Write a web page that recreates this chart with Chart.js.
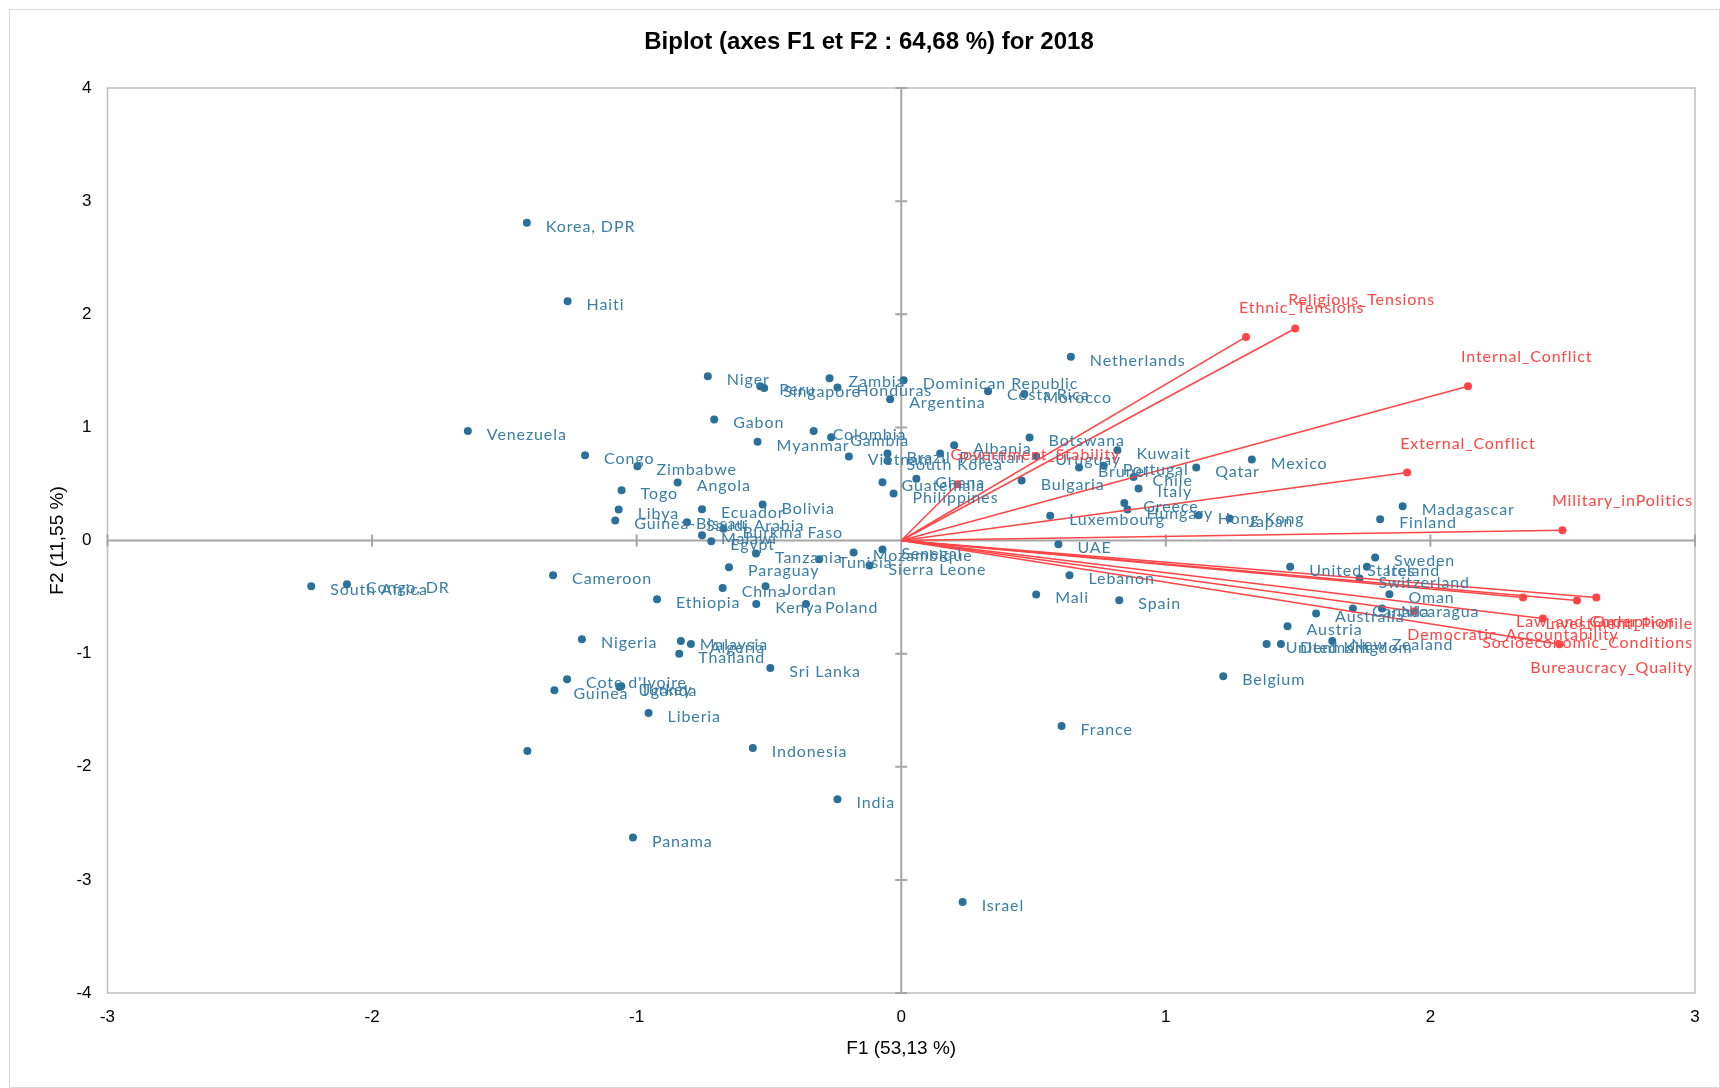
<!DOCTYPE html>
<html>
<head>
<meta charset="utf-8">
<script src="https://cdn.jsdelivr.net/npm/chart.js@4.4.1/dist/chart.umd.min.js"></script>
<style>
  html, body { margin: 0; padding: 0; background: #ffffff; }
  #wrap { width: 1720px; height: 1088px; }
</style>
</head>
<body>
<div id="wrap"><canvas id="c" width="1720" height="1088"></canvas></div>
<script>
// ---------------- DATA ----------------
const chartTitle = "Biplot (axes F1 et F2 : 64,68 %) for 2018";
const xAxisTitle = "F1 (53,13 %)";
const yAxisTitle = "F2 (11,55 %)";

const countries = [
  "Korea, DPR","Haiti","Venezuela","Congo","Zimbabwe","Niger","Peru","Singapore","Zambia","Honduras",
  "Dominican Republic","Argentina","Gabon","Colombia","Myanmar","Gambia","Vietnam","Brazil","South Korea","Pakistan",
  "Albania","Guatemala","Philippines","Ghana","Togo","Angola","Libya","Guinea-Bissau","Ecuador","Saudi Arabia",
  "Burkina Faso","Malawi","Egypt","Tanzania","Bolivia","Paraguay","China","Jordan","Kenya","Poland",
  "Ethiopia","Mozambique","Sierra Leone","Tunisia","Senegal","South Africa","Congo, DR","Cameroon","Nigeria","Malaysia",
  "Algeria","Thailand","Sri Lanka","Cote d'Ivoire","Guinea","Uganda","Turkey","Liberia","","Indonesia",
  "India","Panama","Israel","Netherlands","Costa Rica","Morocco","Botswana","Uruguay","Bulgaria","Brunei",
  "Portugal","Kuwait","Chile","Italy","Qatar","Greece","Hungary","Luxembourg","Hong Kong","Japan",
  "UAE","Lebanon","Mali","Spain","France","Belgium","United Kingdom","Denmark","New Zealand","Austria",
  "Sweden","United States","Ireland","Switzerland","Oman","Australia","Canada","Nicaragua","Mexico","Madagascar",
  "Finland"
];
const countryF1 = [
  -1.415,-1.261,-1.638,-1.195,-0.997,-0.731,-0.533,-0.518,-0.271,-0.241,
   0.009,-0.042,-0.707,-0.331,-0.543,-0.265,-0.198,-0.052,-0.052, 0.147,
   0.200,-0.071,-0.029, 0.057,-1.057,-0.845,-1.068,-1.081,-0.753,-0.810,
  -0.672,-0.753,-0.718,-0.549,-0.524,-0.651,-0.675,-0.513,-0.548,-0.360,
  -0.923,-0.180,-0.120,-0.310,-0.071,-2.230,-2.095,-1.316,-1.207,-0.833,
  -0.795,-0.839,-0.495,-1.263,-1.311,-1.065,-1.058,-0.955,-1.413,-0.561,
  -0.241,-1.014, 0.232, 0.641, 0.328, 0.465, 0.485, 0.510, 0.455, 0.672,
   0.765, 0.817, 0.878, 0.897, 1.115, 0.843, 0.855, 0.563, 1.124, 1.241,
   0.594, 0.636, 0.510, 0.824, 0.606, 1.217, 1.381, 1.435, 1.629, 1.460,
   1.791, 1.470, 1.760, 1.732, 1.845, 1.568, 1.707, 1.817, 1.325, 1.895,
   1.810
];
const countryF2 = [
   2.808, 2.116, 0.969, 0.754, 0.657, 1.453, 1.364, 1.347, 1.435, 1.353,
   1.417, 1.249, 1.070, 0.969, 0.872, 0.913, 0.743, 0.769, 0.704, 0.769,
   0.843, 0.516, 0.415, 0.545, 0.445, 0.513, 0.274, 0.177, 0.277, 0.162,
   0.103, 0.047,-0.006,-0.115, 0.318,-0.236,-0.419,-0.404,-0.561,-0.561,
  -0.519,-0.106,-0.221,-0.165,-0.080,-0.404,-0.386,-0.307,-0.873,-0.888,
  -0.915,-1.000,-1.126,-1.226,-1.324,-1.294,-1.288,-1.524,-1.860,-1.834,
  -2.287,-2.626,-3.195, 1.624, 1.320, 1.294, 0.911, 0.748, 0.530, 0.645,
   0.660, 0.798, 0.562, 0.460, 0.645, 0.332, 0.274, 0.218, 0.224, 0.195,
  -0.033,-0.307,-0.477,-0.528,-1.639,-1.200,-0.914,-0.914,-0.888,-0.758,
  -0.150,-0.233,-0.233,-0.336,-0.475,-0.645,-0.601,-0.601, 0.716, 0.303,
   0.188
];

const variables = [
  "Government_Stability","Socioeconomic_Conditions","Investment_Profile","Internal_Conflict",
  "External_Conflict","Corruption","Military_inPolitics","Religious_Tensions",
  "Law_and_Order","Ethnic_Tensions","Democratic_Accountability","Bureaucracy_Quality"
];
const variableF1 = [0.213, 2.425, 2.554, 2.142, 1.912, 2.627, 2.499, 1.489, 2.350, 1.303, 1.939, 2.488];
const variableF2 = [0.498,-0.690,-0.530, 1.364, 0.601,-0.504, 0.091, 1.874,-0.504, 1.800,-0.625,-0.917];

const xTicksMin = -3, xTicksMax = 3, yTicksMin = -4, yTicksMax = 4;

// ---------------- STYLE ----------------
const BLUE_DOT = '#2B7098';
const BLUE_TXT = '#3A7EA5';
const RED = '#FF4545';
const AXIS_GRAY = '#A6A6A6';
const FRAME_GRAY = '#BFBFBF';
const LABEL_FONT = '16px Lato, "Open Sans", sans-serif';
const TICK_FONT_FAMILY = '"Liberation Sans Narrow", "Liberation Sans", Arial, sans-serif';

const framePlugin = {
  id: 'frame',
  beforeDraw(chart) {
    const ctx = chart.ctx;
    ctx.save();
    ctx.strokeStyle = '#D9D9D9';
    ctx.lineWidth = 1;
    ctx.strokeRect(9.5, 9.5, chart.width - 10, chart.height - 10);
    // title
    ctx.fillStyle = '#000';
    ctx.font = 'bold 24px ' + TICK_FONT_FAMILY;
    ctx.textAlign = 'center';
    ctx.textBaseline = 'middle';
    ctx.fillText(chartTitle, 869, 42);
    ctx.restore();
  },
  beforeDatasetsDraw(chart) {
    const {ctx, chartArea: a, scales: {x, y}} = chart;
    ctx.save();
    // plot border
    ctx.strokeStyle = FRAME_GRAY;
    ctx.lineWidth = 1.5;
    ctx.strokeRect(a.left, a.top, a.right - a.left, a.bottom - a.top);
    // zero axes
    const x0 = x.getPixelForValue(0), y0 = y.getPixelForValue(0);
    ctx.strokeStyle = AXIS_GRAY;
    ctx.lineWidth = 2;
    ctx.beginPath();
    ctx.moveTo(a.left, y0); ctx.lineTo(a.right, y0);
    ctx.moveTo(x0, a.top); ctx.lineTo(x0, a.bottom);
    // cross tick marks
    for (let v = xTicksMin; v <= xTicksMax; v++) {
      const px = x.getPixelForValue(v);
      ctx.moveTo(px, y0 - 6); ctx.lineTo(px, y0 + 6);
    }
    for (let v = yTicksMin; v <= yTicksMax; v++) {
      const py = y.getPixelForValue(v);
      ctx.moveTo(x0 - 6, py); ctx.lineTo(x0 + 6, py);
    }
    ctx.stroke();
    ctx.restore();
  }
};

const labelPlugin = {
  id: 'labels',
  afterDatasetsDraw(chart) {
    const ctx = chart.ctx;
    const a = chart.chartArea;
    ctx.save();
    ctx.font = LABEL_FONT;
    if ('letterSpacing' in ctx) ctx.letterSpacing = '0.9px';
    ctx.textAlign = 'left';
    ctx.textBaseline = 'alphabetic';
    // country labels
    ctx.fillStyle = BLUE_TXT;
    const meta0 = chart.getDatasetMeta(0);
    meta0.data.forEach((pt, i) => {
      const t = countries[i];
      if (!t) return;
      ctx.fillText(t, pt.x + 19, pt.y + 9);
    });
    // variable labels
    ctx.fillStyle = RED;
    variables.forEach((name, i) => {
      const meta = chart.getDatasetMeta(i + 1);
      const pt = meta.data[1];
      const w = ctx.measureText(name).width;
      let lx = pt.x - 7;
      if (lx + w > a.right - 2) lx = a.right - 2 - w;
      const ly = variableF2[i] >= 0 ? pt.y - 24 : pt.y + 29;
      ctx.fillText(name, lx, ly);
    });
    ctx.restore();
  }
};

const datasets = [{
  label: 'Observations',
  data: countries.map((c, i) => ({x: countryF1[i], y: countryF2[i]})),
  pointRadius: 4,
  pointBackgroundColor: BLUE_DOT,
  pointBorderWidth: 0,
  showLine: false,
  order: 2
}];
variables.forEach((v, i) => {
  datasets.push({
    label: v,
    data: [{x: 0, y: 0}, {x: variableF1[i], y: variableF2[i]}],
    showLine: true,
    borderColor: RED,
    borderWidth: 1.5,
    pointRadius: [0, 4],
    pointBackgroundColor: RED,
    pointBorderWidth: 0,
    fill: false,
    order: 1
  });
});

new Chart(document.getElementById('c'), {
  type: 'scatter',
  data: { datasets },
  options: {
    responsive: false,
    animation: false,
    devicePixelRatio: 1,
    layout: { padding: { left: 10, right: 25, top: 88, bottom: 0 } },
    plugins: {
      legend: { display: false },
      tooltip: { enabled: false },
      title: { display: false }
    },
    scales: {
      x: {
        type: 'linear', min: xTicksMin, max: xTicksMax,
        ticks: { stepSize: 1, padding: 14, color: '#000', font: { family: TICK_FONT_FAMILY, size: 17 } },
        grid: { display: false, drawTicks: false },
        border: { display: false },
        title: { display: true, text: xAxisTitle, color: '#000',
                 font: { family: TICK_FONT_FAMILY, size: 19 }, padding: { top: 0, bottom: 28 } },
        afterFit(s) { s.height = 95; }
      },
      y: {
        type: 'linear', min: yTicksMin, max: yTicksMax,
        ticks: { stepSize: 1, padding: 16, color: '#000', font: { family: TICK_FONT_FAMILY, size: 17 } },
        grid: { display: false, drawTicks: false },
        border: { display: false },
        title: { display: true, text: yAxisTitle, color: '#000',
                 font: { family: TICK_FONT_FAMILY, size: 19 }, padding: { top: 36, bottom: 0 } },
        afterFit(s) { s.width = 97.5; }
      }
    }
  },
  plugins: [framePlugin, labelPlugin]
});
</script>
</body>
</html>
